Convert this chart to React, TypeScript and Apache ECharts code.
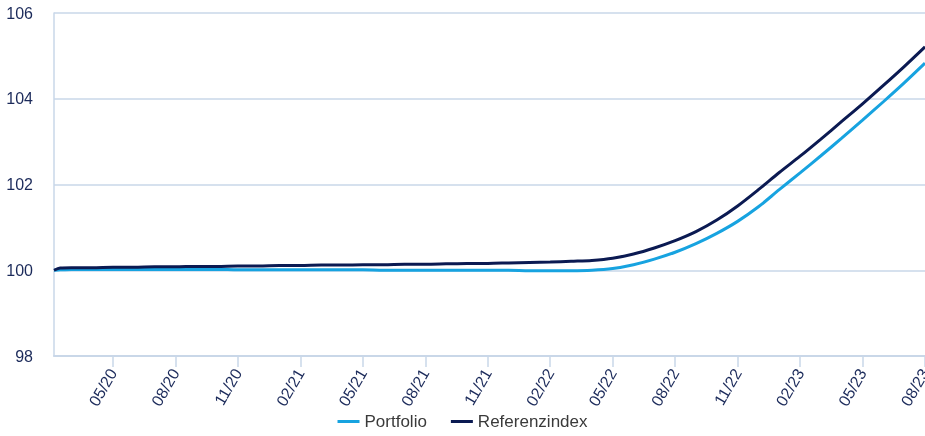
import React, { useEffect, useRef } from "react";
import * as echarts from "echarts";

// Observation dates (monthly, first point is the start of the series)
const dates: string[] = [
  "2020-02-06", "2020-02-15", "2020-03-01", "2020-04-01", "2020-05-01", "2020-06-01", "2020-07-01",
  "2020-08-01", "2020-09-01", "2020-10-01", "2020-11-01", "2020-12-01", "2021-01-01",
  "2021-02-01", "2021-03-01", "2021-04-01", "2021-05-01", "2021-06-01", "2021-07-01",
  "2021-08-01", "2021-09-01", "2021-10-01", "2021-11-01", "2021-12-01", "2022-01-01",
  "2022-02-01", "2022-03-01", "2022-04-01", "2022-05-01", "2022-06-01", "2022-07-01",
  "2022-08-01", "2022-09-01", "2022-10-01", "2022-11-01", "2022-12-01", "2023-01-01",
  "2023-02-01", "2023-03-01", "2023-04-01", "2023-05-01", "2023-06-01", "2023-07-01",
  "2023-08-01",
];

const portfolio: number[] = [
  100.0, 100.01, 100.02, 100.02, 100.02, 100.02, 100.02,
  100.02, 100.02, 100.02, 100.01, 100.01, 100.01,
  100.01, 100.01, 100.01, 100.01, 100.0, 100.0,
  100.0, 100.0, 100.0, 100.0, 100.0, 99.99,
  99.99, 99.99, 100.0, 100.04, 100.13, 100.26,
  100.42, 100.62, 100.86, 101.14, 101.48, 101.88,
  102.27, 102.67, 103.08, 103.5, 103.93, 104.37,
  104.83,
];

const referenzindex: number[] = [
  100.0, 100.05, 100.06, 100.06, 100.07, 100.07, 100.08,
  100.08, 100.09, 100.09, 100.1, 100.1, 100.11,
  100.11, 100.12, 100.12, 100.13, 100.13, 100.14,
  100.14, 100.15, 100.16, 100.16, 100.17, 100.18,
  100.19, 100.21, 100.23, 100.28, 100.38, 100.52,
  100.69, 100.9, 101.17, 101.5, 101.88, 102.28,
  102.66, 103.06, 103.47, 103.88, 104.31, 104.75,
  105.21,
];

// Tick labels (MM/YY) every three months
const tickLabels: string[] = [
  "05/20", "08/20", "11/20", "02/21", "05/21", "08/21", "11/21",
  "02/22", "05/22", "08/22", "11/22", "02/23", "05/23", "08/23",
];

const yTicks: number[] = [98, 100, 102, 104, 106];

const BASE_YEAR = 2020;

function dateToMonth(d: string): number {
  const [y, m, day] = d.split("-").map(Number);
  return (y - BASE_YEAR) * 12 + (m - 1) + (day - 1) / 30;
}

function labelToMonth(l: string): number {
  const [m, y] = l.split("/").map(Number);
  return (2000 + y - BASE_YEAR) * 12 + (m - 1);
}

function monthToLabel(v: number): string {
  const r = Math.round(v);
  const m = (r % 12) + 1;
  const y = BASE_YEAR - 2000 + Math.floor(r / 12);
  return `${String(m).padStart(2, "0")}/${String(y).padStart(2, "0")}`;
}

const FONT = "'Liberation Sans', Arial, Helvetica, sans-serif";
const AXIS_COLOR = "#c9d7e8";
const LABEL_COLOR = "#1b2a5a";

export default function App() {
  const ref = useRef<HTMLDivElement>(null);

  useEffect(() => {
    if (!ref.current) return;
    const chart = echarts.init(ref.current, undefined, { renderer: "svg" });
    const xs = dates.map(dateToMonth);
    const tickVals = tickLabels.map(labelToMonth);

    chart.setOption({
      animation: false,
      textStyle: { fontFamily: FONT },
      grid: {
        left: 54,
        right: 0,
        top: 13,
        bottom: 80,
        containLabel: false,
        outerBoundsMode: "none",
      },
      legend: {
        bottom: 1,
        left: "center",
        itemWidth: 22,
        itemHeight: 3,
        itemGap: 24,
        icon: "rect",
        textStyle: { fontSize: 17, color: "#3a3a3a", fontFamily: FONT },
        data: ["Portfolio", "Referenzindex"],
      },
      xAxis: {
        type: "value",
        min: xs[0],
        max: tickVals[tickVals.length - 1],
        axisLine: { show: true, lineStyle: { color: AXIS_COLOR, width: 2 } },
        axisTick: {
          show: true,
          length: 11,
          customValues: tickVals,
          lineStyle: { color: AXIS_COLOR, width: 1.5 },
        },
        axisLabel: {
          show: true,
          customValues: tickVals,
          rotate: 60,
          margin: 14,
          fontSize: 16,
          color: LABEL_COLOR,
          fontFamily: FONT,
          hideOverlap: false,
          formatter: (v: number) => monthToLabel(v),
        },
        splitLine: { show: false },
      },
      yAxis: {
        type: "value",
        min: yTicks[0],
        max: yTicks[yTicks.length - 1],
        interval: 2,
        axisLine: { show: true, lineStyle: { color: AXIS_COLOR, width: 1.5 } },
        axisTick: { show: false },
        axisLabel: { margin: 21, fontSize: 16, color: LABEL_COLOR, fontFamily: FONT, padding: [3, 0, 0, 0] },
        splitLine: { show: true, lineStyle: { color: AXIS_COLOR, width: 1.5 } },
      },
      series: [
        {
          name: "Portfolio",
          type: "line",
          showSymbol: false,
          symbol: "none",
          smooth: 0.3,
          color: "#17a3e0",
          lineStyle: { width: 3, color: "#17a3e0" },
          data: xs.map((x, i) => [x, portfolio[i]]),
          z: 2,
        },
        {
          name: "Referenzindex",
          type: "line",
          showSymbol: false,
          symbol: "none",
          smooth: 0.3,
          color: "#0b1a52",
          lineStyle: { width: 3, color: "#0b1a52" },
          data: xs.map((x, i) => [x, referenzindex[i]]),
          z: 3,
        },
      ],
    });

    return () => chart.dispose();
  }, []);

  return (
    <div
      ref={ref}
      style={{ position: "fixed", left: 0, top: 0, width: 925, height: 436 }}
    />
  );
}
